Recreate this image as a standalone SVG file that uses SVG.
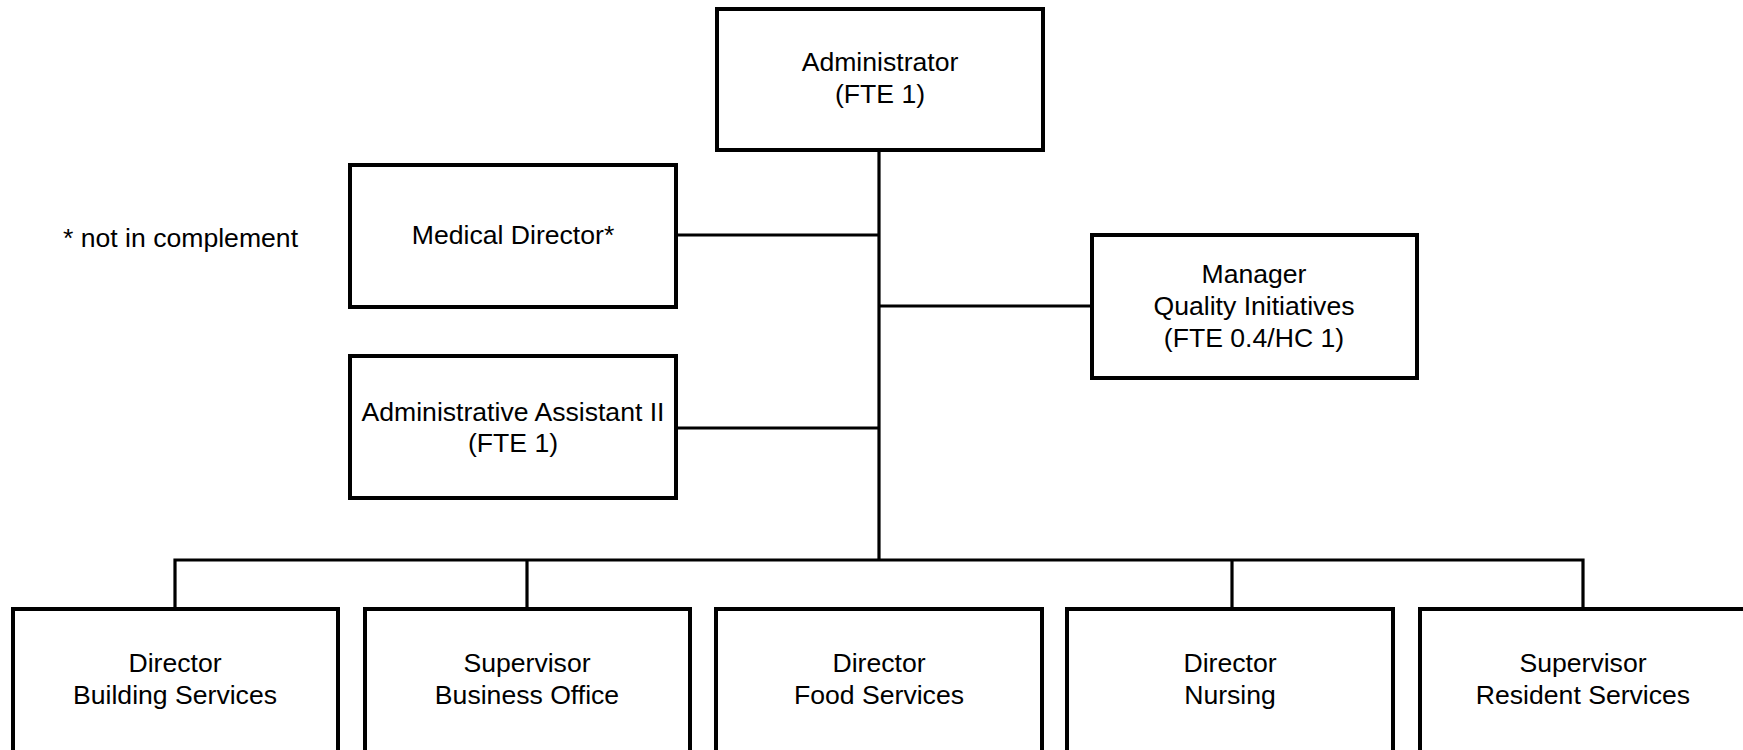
<svg xmlns="http://www.w3.org/2000/svg" width="1743" height="750" viewBox="0 0 1743 750">
<style>
.box{fill:#fff;stroke:#000;stroke-width:4}
.ln{fill:none;stroke:#000;stroke-width:3.2}
text{font-family:"Liberation Sans",Arial,sans-serif;font-size:26.6px;fill:#000;text-anchor:middle}
</style>
<rect width="1743" height="750" fill="#fff"/>
<g id="connectors">
<path class="ln" d="M879 151V560"/>
<path class="ln" d="M676 235H879"/>
<path class="ln" d="M879 306H1092"/>
<path class="ln" d="M676 428H879"/>
<path class="ln" d="M175 609V560H1583V609"/>
<path class="ln" d="M527 560V609"/>
<path class="ln" d="M1232 560V609"/>
</g>
<g id="administrator">
<rect class="box" x="717" y="9" width="326" height="141"/>
<text x="880" y="71">Administrator</text>
<text x="880" y="103">(FTE 1)</text>
</g>
<g id="note">
<text x="63" y="247" style="text-anchor:start">* not in complement</text>
</g>
<g id="medical-director">
<rect class="box" x="350" y="165" width="326" height="142"/>
<text x="513" y="244">Medical Director*</text>
</g>
<g id="admin-assistant">
<rect class="box" x="350" y="356" width="326" height="142"/>
<text x="513" y="421">Administrative Assistant II</text>
<text x="513" y="452">(FTE 1)</text>
</g>
<g id="manager-qi">
<rect class="box" x="1092" y="235" width="325" height="143"/>
<text x="1254" y="283">Manager</text>
<text x="1254" y="315">Quality Initiatives</text>
<text x="1254" y="347">(FTE 0.4/HC 1)</text>
</g>
<g id="dir-building">
<rect class="box" x="13" y="609" width="325" height="160"/>
<text x="175" y="672">Director</text>
<text x="175" y="704">Building Services</text>
</g>
<g id="sup-business">
<rect class="box" x="365" y="609" width="325" height="160"/>
<text x="527" y="672">Supervisor</text>
<text x="527" y="704">Business Office</text>
</g>
<g id="dir-food">
<rect class="box" x="716" y="609" width="326" height="160"/>
<text x="879" y="672">Director</text>
<text x="879" y="704">Food Services</text>
</g>
<g id="dir-nursing">
<rect class="box" x="1067" y="609" width="326" height="160"/>
<text x="1230" y="672">Director</text>
<text x="1230" y="704">Nursing</text>
</g>
<g id="sup-resident">
<rect class="box" x="1420" y="609" width="340" height="160"/>
<text x="1583" y="672">Supervisor</text>
<text x="1583" y="704">Resident Services</text>
</g>
</svg>
